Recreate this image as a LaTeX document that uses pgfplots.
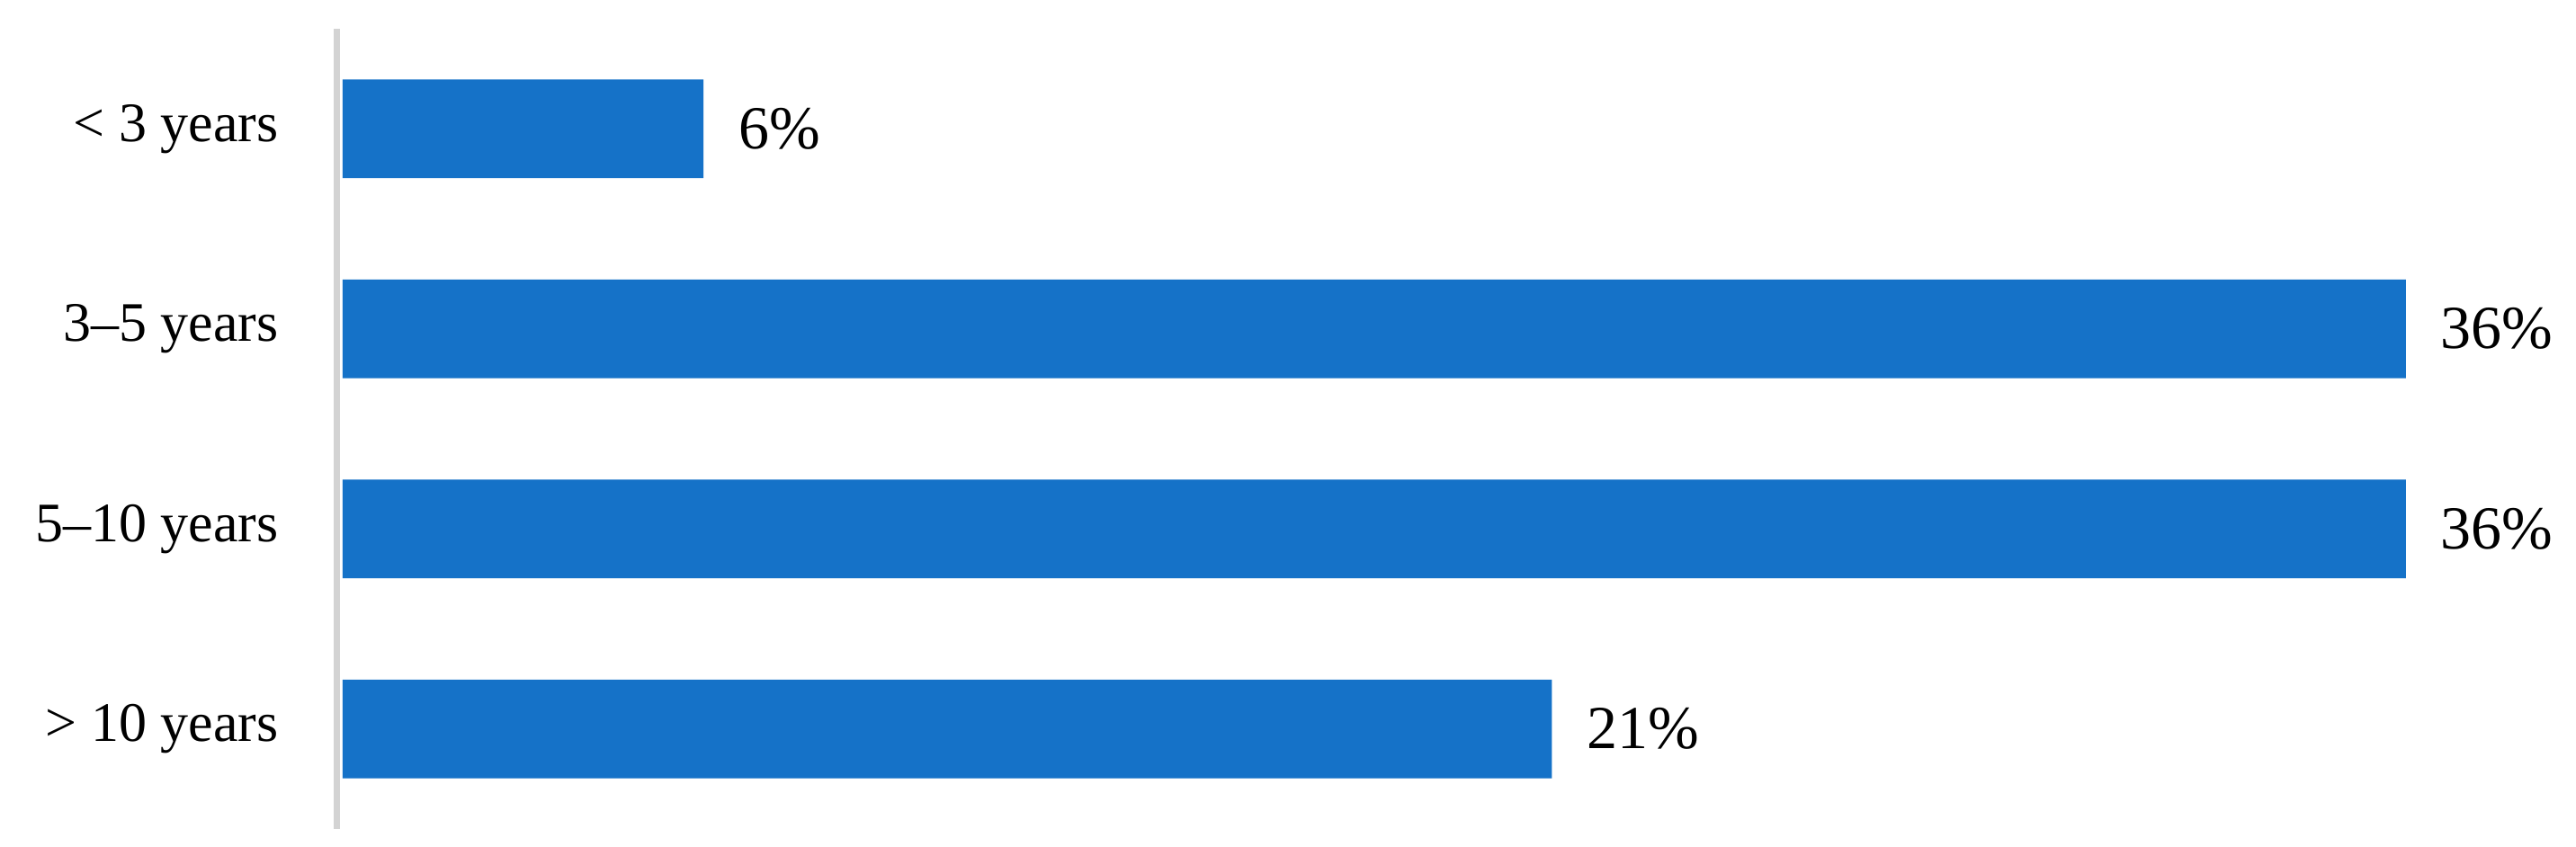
\documentclass[border=0pt]{standalone}
\usepackage{fontspec}
\setmainfont{Liberation Serif}
\usepackage{pgfplots}
\pgfplotsset{compat=1.18}
\definecolor{BarBlue}{HTML}{1572C8}
\definecolor{AxisGray}{HTML}{D3D3D3}

\begin{document}
\begin{tikzpicture}
\begin{axis}[
  name=ax,
  xbar,
  bar shift=0pt,
  bar width=27.4pt,
  scale only axis,
  width=607pt, height=222.5pt,
  xmin=-0.1, xmax=38,
  ymin=-0.5, ymax=3.5,
  y dir=reverse,
  axis x line=none,
  axis y line*=left,
  y axis line style={draw=AxisGray, line width=1.6pt},
  ytick={0,1,2,3},
  yticklabels={{< 3 years},{3--5 years},{5--10 years},{> 10 years}},
  major tick length=0pt,
  yticklabel style={font=\fontsize{15.5}{18}\selectfont, inner sep=0pt, xshift=-16pt},
  point meta=explicit,
  /pgf/number format/assume math mode=true,
  nodes near coords={\pgfmathprintnumber{\pgfplotspointmeta}\%},
  every node near coord/.style={font=\fontsize{17}{20}\selectfont, anchor=west, inner sep=0pt, xshift=9.5pt, black},
  clip=false,
]
\addplot[fill=BarBlue, draw=none] coordinates {
  (6.3,0) [6]
  (36,1) [36]
  (36,2) [36]
  (21.1,3) [21]
};
\end{axis}
\pgfresetboundingbox
\path (ax.south west) ++(-93.6pt,-5pt) rectangle ++(716pt,235.5pt);
\end{tikzpicture}
\end{document}
